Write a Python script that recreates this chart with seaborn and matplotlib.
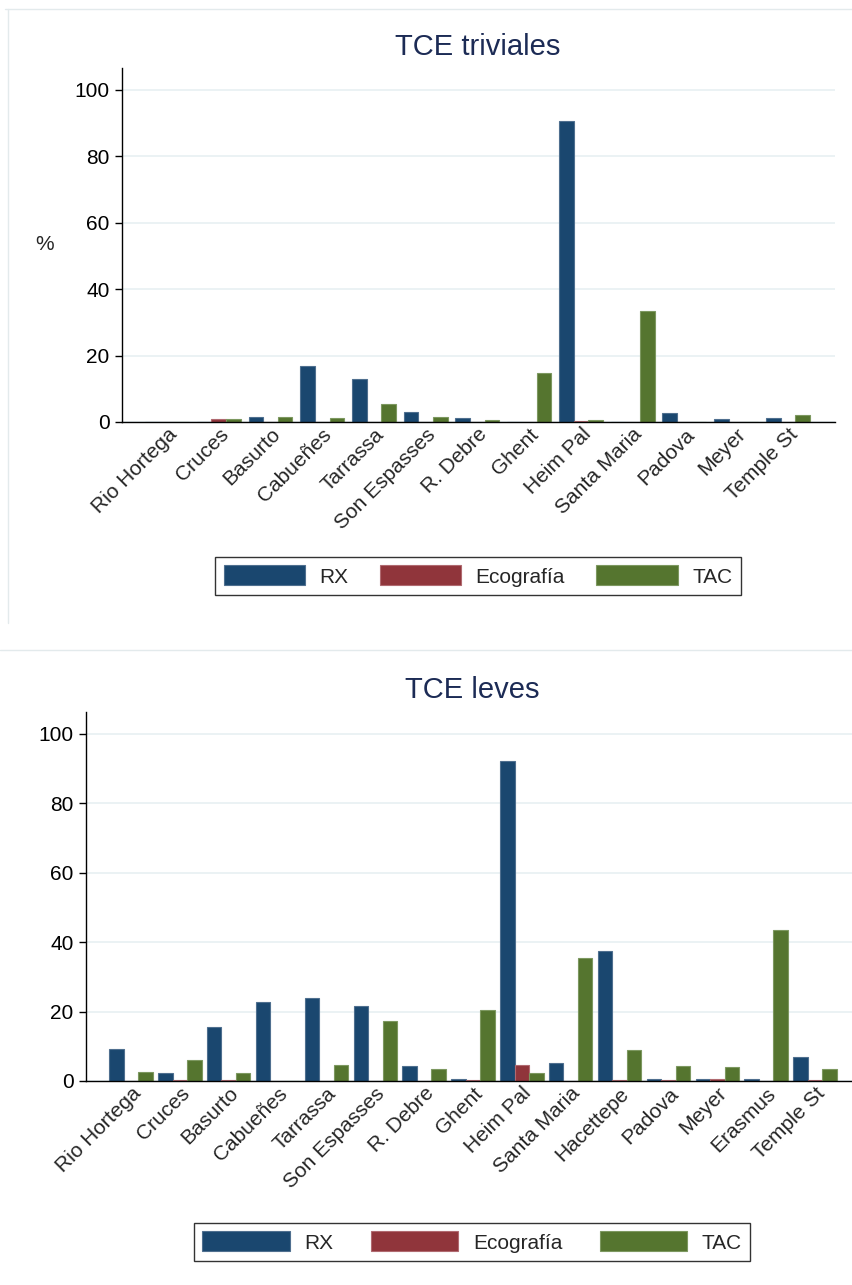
import matplotlib
matplotlib.use("Agg")
import matplotlib.pyplot as plt
from matplotlib.lines import Line2D
from matplotlib.patches import Patch
import numpy as np
import pandas as pd
import seaborn as sns

# --- data -----------------------------------------------------------------
pruebas = ["RX", "Ecografía", "TAC"]

centros_triviales = ["Rio Hortega", "Cruces", "Basurto", "Cabueñes", "Tarrassa",
                     "Son Espasses", "R. Debre", "Ghent", "Heim Pal", "Santa Maria",
                     "Padova", "Meyer", "Temple St"]
rx_triviales = [0, 0, 1.6, 16.9, 13.0, 3.0, 1.1, 0, 90.6, 0, 2.7, 0.9, 1.2]
eco_triviales = [0, 0.9, 0, 0, 0, 0, 0, 0, 0.3, 0, 0, 0, 0]
tac_triviales = [0, 0.9, 1.6, 1.2, 5.3, 1.5, 0.6, 14.8, 0.6, 33.4, 0, 0, 2.1]

centros_leves = ["Rio Hortega", "Cruces", "Basurto", "Cabueñes", "Tarrassa",
                 "Son Espasses", "R. Debre", "Ghent", "Heim Pal", "Santa Maria",
                 "Hacettepe", "Padova", "Meyer", "Erasmus", "Temple St"]
rx_leves = [9.1, 2.3, 15.6, 22.7, 23.9, 21.6, 4.2, 0.6, 92.2, 5.2, 37.5, 0.6, 0.6, 0.6, 6.9]
eco_leves = [0, 0.3, 0.4, 0, 0, 0, 0, 0.3, 4.6, 0, 0.3, 0.3, 0.6, 0, 0.3]
tac_leves = [2.7, 6.1, 2.4, 0, 4.5, 17.3, 3.5, 20.5, 2.3, 35.4, 8.9, 4.3, 3.9, 43.5, 3.5]

yticks = [0, 20, 40, 60, 80, 100]

# --- style ----------------------------------------------------------------
sns.set_style("white")
plt.rcParams["font.family"] = ["Liberation Sans", "DejaVu Sans"]

colores = {"RX": "#1a476f", "Ecografía": "#90353b", "TAC": "#55752f"}
bordes = {"RX": "#4f6f8f", "Ecografía": "#b06a70", "TAC": "#7d9860"}
color_titulo = "#1c2b55"
color_rejilla = "#e9f1f3"
FS = 15

W, H = 852, 1285
fig = plt.figure(figsize=(W / 100, H / 100), dpi=100)
fig.patch.set_facecolor("white")


def px_axes(left, top, right, bottom):
    return fig.add_axes([left / W, 1 - bottom / H, (right - left) / W, (bottom - top) / H])


def tabla(centros, rx, eco, tac):
    return pd.DataFrame({
        "centro": centros * 3,
        "prueba": ["RX"] * len(centros) + ["Ecografía"] * len(centros) + ["TAC"] * len(centros),
        "pct": list(rx) + list(eco) + list(tac),
    })


def panel(ax, df, centros, ancho, xlim, ylim_top, ylabel=None):
    sns.barplot(data=df, x="centro", y="pct", hue="prueba", order=centros,
                hue_order=pruebas, palette=colores, width=ancho, errorbar=None,
                legend=False, ax=ax, saturation=1, linewidth=0.8)
    # lighter outline on each bar, per series
    for cont, p in zip(ax.containers, pruebas):
        for bar in cont:
            bar.set_edgecolor(bordes[p])
    ax.set_xlim(*xlim)
    ax.set_ylim(0, ylim_top)
    ax.set_yticks(yticks)
    ax.set_yticklabels([str(t) for t in yticks], fontsize=FS)
    ax.yaxis.grid(True, color=color_rejilla, lw=1.3)
    ax.xaxis.grid(False)
    ax.set_axisbelow(True)
    for s in ["top", "right"]:
        ax.spines[s].set_visible(False)
    for s in ["left", "bottom"]:
        ax.spines[s].set_color("black")
        ax.spines[s].set_linewidth(1.0)
    ax.tick_params(axis="y", length=5, width=1.0, pad=4, colors="black", left=True)
    ax.tick_params(axis="x", length=0, pad=2)
    ax.set_xticks(range(len(centros)))
    ax.set_xticklabels(centros, rotation=45, ha="right", va="top",
                       rotation_mode="anchor", fontsize=FS)
    ax.set_xlabel("")
    if ylabel:
        ax.set_ylabel(ylabel, rotation=0, fontsize=FS, va="center", ha="center")
        ax.yaxis.set_label_coords(-0.108, 0.5)
    else:
        ax.set_ylabel("")


def leyenda(cx, cy, handlelength=3.9, columnspacing=1.5):
    handles = [Patch(facecolor=colores[p], edgecolor=bordes[p], lw=0.8, label=p) for p in pruebas]
    leg = fig.legend(handles=handles, loc="center", ncol=3,
                     bbox_to_anchor=(cx / W, 1 - cy / H), bbox_transform=fig.transFigure,
                     fontsize=FS, frameon=True, fancybox=False, shadow=False,
                     handlelength=handlelength, handleheight=1.1, handletextpad=0.7,
                     columnspacing=columnspacing, borderpad=0.4)
    leg.get_frame().set_edgecolor("black")
    leg.get_frame().set_linewidth(1.0)
    return leg


# --- panel frames -----------------------------------------------------------
marco = "#e3eaec"
fig.add_artist(Line2D([8 / W, 8 / W], [1 - 9 / H, 1 - 623 / H], color=marco, lw=1.0))
fig.add_artist(Line2D([5 / W, 1.0], [1 - 9 / H, 1 - 9 / H], color=marco, lw=1.0))
fig.add_artist(Line2D([0, 1.0], [1 - 650 / H, 1 - 650 / H], color=marco, lw=1.0))

# --- TCE triviales ----------------------------------------------------------
ax1 = px_axes(122, 68, 835, 422)
panel(ax1, tabla(centros_triviales, rx_triviales, eco_triviales, tac_triviales),
      centros_triviales, 0.85, (-0.87, 12.91), 106.6, ylabel="%")
fig.text(478 / W, 1 - 47 / H, "TCE triviales", ha="center", va="center",
         fontsize=21, color=color_titulo)
leyenda(478, 576)

# --- TCE leves --------------------------------------------------------------
ax2 = px_axes(86, 712, 858, 1081)
panel(ax2, tabla(centros_leves, rx_leves, eco_leves, tac_leves),
      centros_leves, 0.89, (-0.92, 14.88), 106.3)
fig.text(472 / W, 1 - 690 / H, "TCE leves", ha="center", va="center",
         fontsize=21, color=color_titulo)
leyenda(472, 1242, handlelength=4.2, columnspacing=1.8)

fig.savefig("out.png", dpi=100, facecolor="white")
